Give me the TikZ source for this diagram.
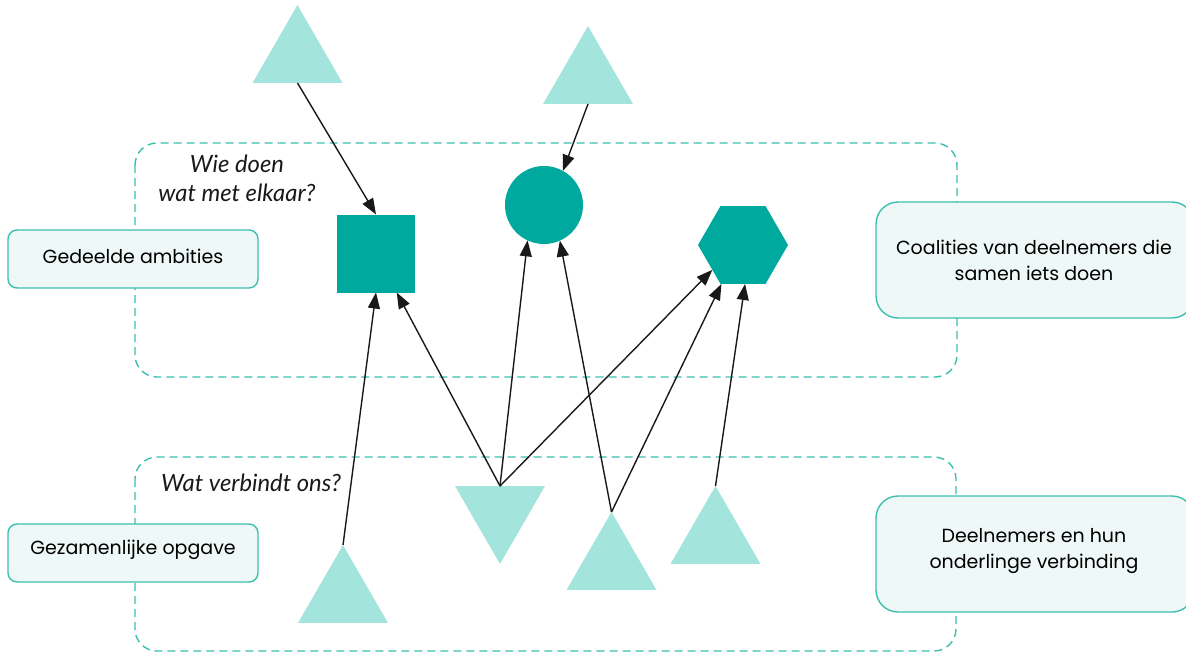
\documentclass[tikz,border=0pt]{standalone}
\usepackage{fontspec}
\setmainfont{Poppins}
\newfontfamily\latofont{Lato}
\usetikzlibrary{shapes.geometric,arrows.meta}
\definecolor{dteal}{HTML}{00A99D}
\definecolor{lteal}{HTML}{A3E4DD}
\definecolor{bfill}{HTML}{EDF8F7}
\definecolor{bline}{HTML}{3DBFB0}
\tikzset{
  tri/.style={regular polygon, regular polygon sides=3, fill=lteal, draw=none, minimum size=103.9pt, inner sep=0pt, outer sep=0pt},
  dshape/.style={fill=dteal, draw=none, inner sep=0pt, outer sep=0pt},
  zone/.style={draw=bline, line width=1.4pt, dash pattern=on 8pt off 5pt, rounded corners=22pt},
  lbox/.style={draw=bline, fill=bfill, line width=1.4pt, rounded corners=9pt},
  rbox/.style={draw=bline, fill=bfill, line width=1.4pt, rounded corners=22pt},
  btext/.style={font=\fontsize{19}{26}\selectfont, align=center, text=black},
  qtext/.style={font=\latofont\itshape\fontsize{23.8}{28.5}\selectfont, text=black!90},
  arr/.style={-{Triangle[length=16pt,width=12pt]}, line width=1.4pt, black!90}
}
\begin{document}
\begin{tikzpicture}[x=1pt,y=-1pt]
\clip (0,0) rectangle (1186,653);
\fill[white] (0,0) rectangle (1186,653);
% zones
\draw[zone] (135,143) rectangle (957,377);
\draw[zone] (135,457) rectangle (956,651);
% side boxes
\draw[lbox] (8,230) rectangle (258,288);
\node[btext] (ga) at (133,256) {Gedeelde ambities};
\draw[lbox] (8,524) rectangle (258,582);
\node[btext] (go) at (133,550) {Gezamenlijke opgave};
\draw[rbox] (876,202) rectangle (1194,318);
\node[btext] (co) at (1034,260) {Coalities van deelnemers die\\samen iets doen};
\draw[rbox] (876,496) rectangle (1194,612);
\node[btext] (dn) at (1034,551) {Deelnemers en hun\\onderlinge verbinding};
% questions
\node[qtext, align=center, anchor=base, inner sep=0pt] (q1) at (237,201) {Wie doen\\wat met elkaar?};
\node[qtext, anchor=base west, inner sep=0pt] (q2) at (161,491) {Wat verbindt ons?};
% shapes
\node[dshape, minimum size=78pt] (sq) at (376,253.5) {};
\node[dshape, circle, minimum size=78pt] (ci) at (544,205) {};
\node[dshape, regular polygon, regular polygon sides=6, minimum size=90pt] (hx) at (743,245) {};
% triangles
\node[tri] (t1) at (297.5,57) {};
\node[tri] (t2) at (588,78) {};
\node[tri] (t3) at (343,597) {};
\node[tri, shape border rotate=180] (t4) at (500,512) {};
\node[tri] (t5) at (611.5,564) {};
\node[tri] (t6) at (715.5,538) {};
% arrows
\draw[arr] (t1.south) -- (sq.north);
\draw[arr] (t2.south) -- (ci.61);
\draw[arr] (t3.north) -- (sq.south);
\draw[arr] (t4.north) -- (sq.-62);
\draw[arr] (t4.north) -- (ci.-115);
\draw[arr] (t4.north) -- (hx.-141);
\draw[arr] (t5.north) -- (ci.-66);
\draw[arr] (t5.north) -- (hx.-119);
\draw[arr] (t6.north) -- (hx.-87);
\end{tikzpicture}
\end{document}
